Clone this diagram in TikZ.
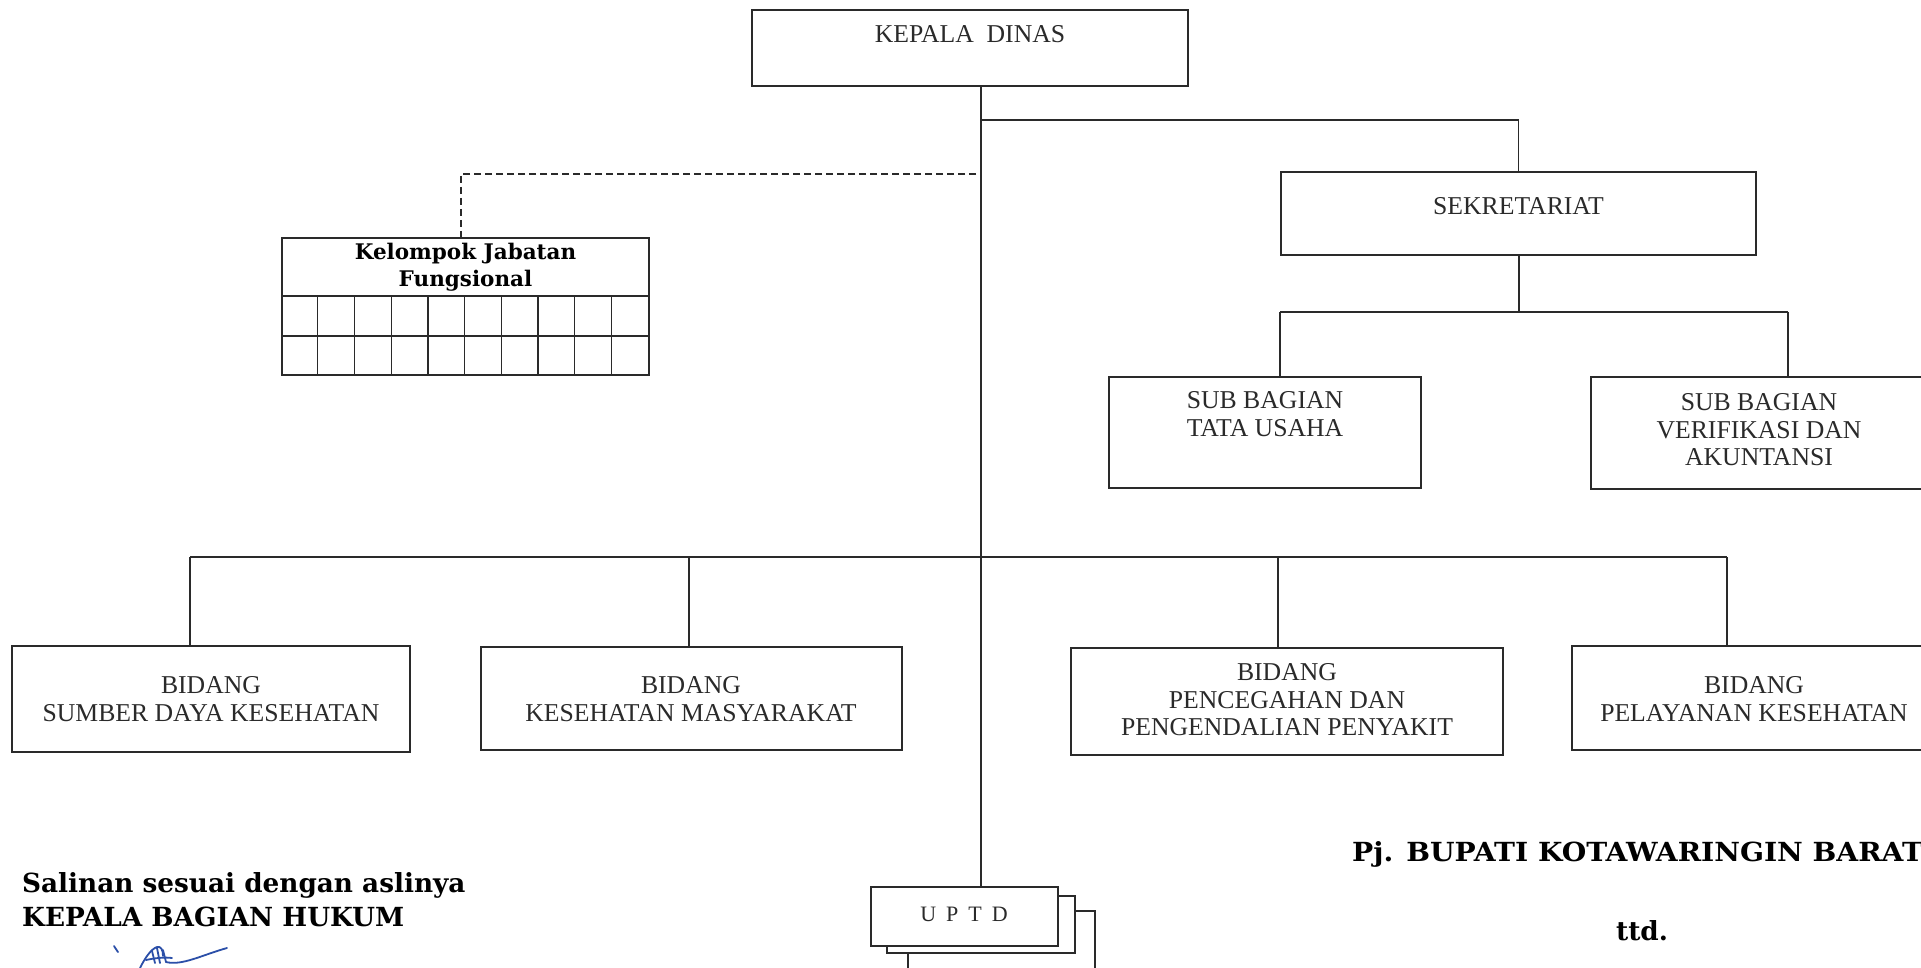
\documentclass[tikz,border=0pt]{standalone}
\usepackage{fontspec}
\usetikzlibrary{calc}
\setmainfont{Liberation Serif}
\newfontfamily\bk{DejaVu Serif}
\definecolor{ink}{HTML}{2A2A2A}
\definecolor{sigblue}{HTML}{2B4FA8}
\begin{document}
\begin{tikzpicture}[x=1pt,y=-1pt,
  orgbox/.style={draw=ink, line width=1.8pt, fill=white, inner sep=0pt},
  lbl/.style={font=\fontsize{25.7}{27.5}\selectfont, text=ink, align=center, inner sep=0pt},
  conn/.style={draw=ink, line width=1.6pt},
  dashline/.style={draw=ink, line width=1.4pt, dash pattern=on 7pt off 4pt},
  boldtxt/.style={font=\bk\bfseries\fontsize{26.3}{28}\selectfont, text=black, inner sep=0pt},
  sig/.style={draw=sigblue, line width=1.8pt, line cap=round, line join=round}
]
\useasboundingbox (0,0) rectangle (1921,968);
\fill[white] (0,0) rectangle (1921,968);
\clip (0,0) rectangle (1921,968);

% ---------- boxes ----------
\node[orgbox, minimum width=436, minimum height=76] (kd) at (970,48) {};
\node[lbl] (kdT) at (970,34) {KEPALA\ \ DINAS};

\node[orgbox, minimum width=475, minimum height=83] (sek) at (1518.5,213.5) {};
\node[lbl] (sekT) at (1518.5,206) {SEKRETARIAT};

\node[orgbox, minimum width=312, minimum height=111] (tu) at (1265,432.5) {};
\node[lbl] (tuT) at (1265,414) {SUB BAGIAN\\TATA USAHA};

\node[orgbox, minimum width=336, minimum height=112] (ver) at (1759,433) {};
\node[lbl] (verT) at (1759,430) {SUB BAGIAN\\VERIFIKASI DAN\\AKUNTANSI};

\node[orgbox, minimum width=398, minimum height=106] (sdk) at (211,699) {};
\node[lbl] (sdkT) at (211,699) {BIDANG\\SUMBER DAYA KESEHATAN};

\node[orgbox, minimum width=421, minimum height=103] (kes) at (691.5,698.5) {};
\node[lbl] (kesT) at (691,699) {BIDANG\\KESEHATAN MASYARAKAT};

\node[orgbox, minimum width=432, minimum height=107] (ppp) at (1287,701.5) {};
\node[lbl] (pppT) at (1287,700) {BIDANG\\PENCEGAHAN DAN\\PENGENDALIAN PENYAKIT};

\node[orgbox, minimum width=364, minimum height=104] (pel) at (1754,698) {};
\node[lbl] (pelT) at (1754,699) {BIDANG\\PELAYANAN KESEHATAN};

% Kelompok Jabatan Fungsional
\node[orgbox, minimum width=367, minimum height=137] (kjf) at (465.5,306.5) {};
\node[font=\bk\bfseries\fontsize{21.5}{27}\selectfont, align=center, inner sep=0pt] (kjfT) at (465.5,267) {Kelompok Jabatan\\Fungsional};
\coordinate (g1) at (0,296);
\coordinate (g2) at (0,336);
\draw[conn, line width=1.3pt] (kjf.west |- g1) -- (kjf.east |- g1);
\draw[conn, line width=1.3pt] (kjf.west |- g2) -- (kjf.east |- g2);
\foreach \i in {1,...,9} {
  \draw[conn, line width=1.3pt] ($(kjf.south west)+(\i*36.7,0)$) -- ($(kjf.south west |- g1)+(\i*36.7,0)$);
}

% UPTD stack
\node[orgbox, minimum width=187, minimum height=64] (u3) at (1001.5,943) {};
\node[orgbox, minimum width=188, minimum height=57] (u2) at (981,924.5) {};
\node[orgbox, minimum width=187, minimum height=59] (uptd) at (964.5,916.5) {};
\node[lbl, font=\fontsize{22}{24}\selectfont] (uptdT) at (964,914) {U\hspace{10pt}P\hspace{10pt}T\hspace{10pt}D};

% ---------- connectors ----------
\coordinate (spine) at (981,0);
\draw[conn] (kd.south -| spine) -- (uptd.north -| spine);

\coordinate (busA) at (0,120);
\draw[conn] (spine |- busA) -| (sek.north);

\coordinate (sekDrop) at (1519,0);
\coordinate (busB) at (0,312);
\coordinate (dTU) at (1280,312);
\coordinate (dVer) at (1788,312);
\draw[conn] (sek.south -| sekDrop) -- (sekDrop |- busB);
\draw[conn] (dTU) -- (dVer);
\draw[conn] (dTU) -- (dTU |- tu.north);
\draw[conn] (dVer) -- (dVer |- ver.north);

\coordinate (d1) at (190,557);
\coordinate (d2) at (689,557);
\coordinate (d3) at (1278,557);
\coordinate (d4) at (1727,557);
\draw[conn] (d1) -- (d4);
\draw[conn] (d1) -- (d1 |- sdk.north);
\draw[conn] (d2) -- (d2 |- kes.north);
\draw[conn] (d3) -- (d3 |- ppp.north);
\draw[conn] (d4) -- (d4 |- pel.north);

\coordinate (dsh) at (976,174);
\coordinate (dK) at (461,0);
\draw[dashline] (dsh) -| (kjf.north -| dK);

% ---------- signature texts ----------
\node[boldtxt, anchor=base west] (sal1) at (22,892) {Salinan sesuai dengan aslinya};
\node[boldtxt, anchor=base west] (sal2) at (22,926) {KEPALA BAGIAN HUKUM};
\node[boldtxt, anchor=base west] (pj) at (1352,861) {\scalebox{1.07}[1]{Pj. BUPATI KOTAWARINGIN BARAT}};
\node[boldtxt, anchor=base] (ttd) at (1642,940) {ttd.};

% handwritten signature
\draw[sig] (114,946) -- (118,952);
\draw[sig] (140,968) .. controls (145,958) and (151,949) .. (157,947) .. controls (161,946) and (163,950) .. (163,956);
\draw[sig] (152,951) -- (155,963);
\draw[sig] (157,948) -- (160,963);
\draw[sig] (163,950) -- (166,962);
\draw[sig] (146,960) .. controls (155,958) and (165,957) .. (172,958);
\draw[sig] (166,962) .. controls (182,966) and (202,955) .. (227,948);
\end{tikzpicture}
\end{document}
